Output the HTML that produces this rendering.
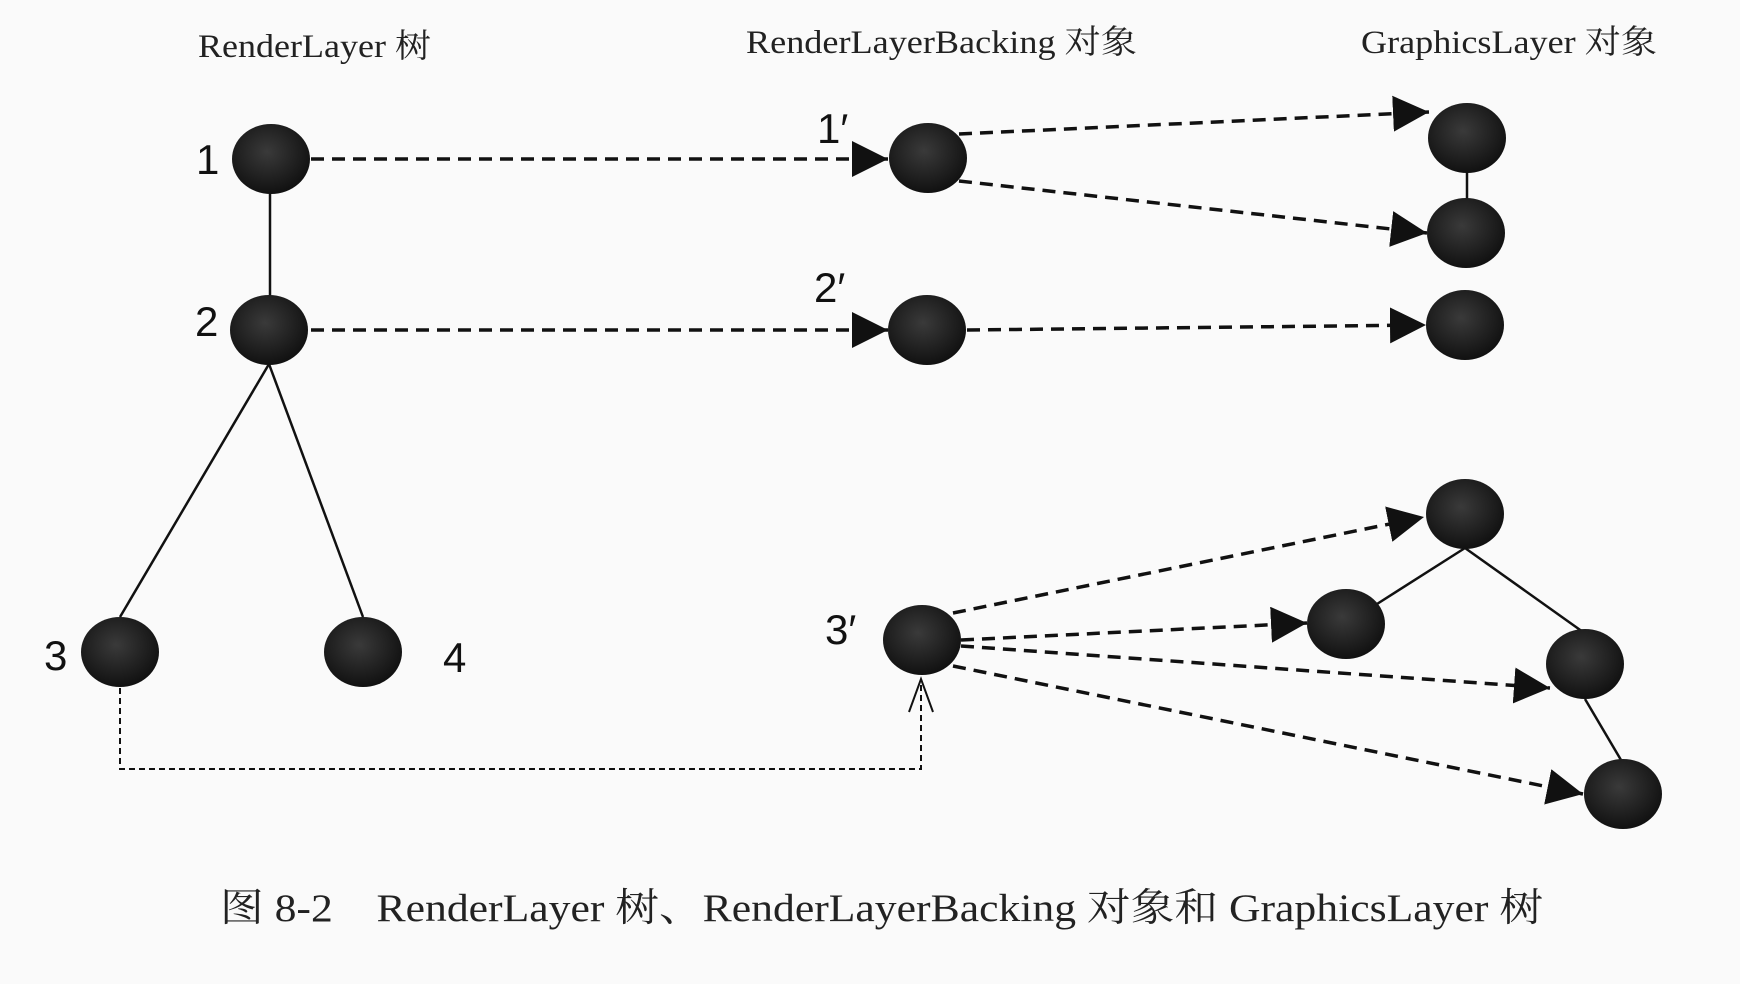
<!DOCTYPE html>
<html><head><meta charset="utf-8"><style>
html,body{margin:0;padding:0;background:#fafafa;}
svg{display:block;}
.h{font-family:"Liberation Serif","Noto Serif CJK SC",serif;font-size:33px;fill:#222;}
.n{font-family:"Liberation Sans",sans-serif;font-size:42px;fill:#111;}
</style></head><body>
<svg width="1740" height="984" viewBox="0 0 1740 984" xmlns="http://www.w3.org/2000/svg">
<defs>
<marker id="f" viewBox="0 0 10 10" refX="10" refY="5" markerWidth="36" markerHeight="36" markerUnits="userSpaceOnUse" orient="auto"><path d="M0,0 L10,5 L0,10 z" fill="#111"/></marker>
<radialGradient id="g" cx="45%" cy="40%" r="60%"><stop offset="0" stop-color="#3a3a3a"/><stop offset="1" stop-color="#111"/></radialGradient>
</defs>
<rect width="1740" height="984" fill="#fafafa"/>
<text class="h" x="198" y="57" textLength="233" lengthAdjust="spacingAndGlyphs">RenderLayer 树</text>
<text class="h" x="746" y="53" textLength="391" lengthAdjust="spacingAndGlyphs">RenderLayerBacking 对象</text>
<text class="h" x="1361" y="53" textLength="296" lengthAdjust="spacingAndGlyphs">GraphicsLayer 对象</text>

<g stroke="#111" stroke-width="2.5" fill="none">
<line x1="270" y1="193" x2="270" y2="296"/>
<line x1="269" y1="364" x2="120" y2="617"/>
<line x1="269" y1="364" x2="363" y2="617"/>
<line x1="1467" y1="170" x2="1467" y2="200"/>
<line x1="1465" y1="548" x2="1377" y2="604"/>
<line x1="1465" y1="548" x2="1583" y2="632"/>
<line x1="1585" y1="699" x2="1621" y2="760"/>
</g>

<g stroke="#111" stroke-width="3.5" fill="none" stroke-dasharray="13 8" marker-end="url(#f)">
<line x1="311" y1="159" x2="888" y2="159"/>
<line x1="311" y1="330" x2="888" y2="330"/>
<line x1="959" y1="134" x2="1429" y2="112"/>
<line x1="959" y1="181" x2="1427" y2="233"/>
<line x1="967" y1="330" x2="1426" y2="325"/>
<line x1="953" y1="613" x2="1424" y2="517"/>
<line x1="961" y1="640" x2="1307" y2="623"/>
<line x1="961" y1="646" x2="1550" y2="688"/>
<line x1="953" y1="666" x2="1583" y2="794"/>
</g>

<path d="M120,688 V769 H921 V680" stroke="#111" stroke-width="2" fill="none" stroke-dasharray="6 4"/>
<path d="M909,712 L921,679 L933,712" stroke="#111" stroke-width="2" fill="none"/>

<g fill="url(#g)">
<ellipse cx="271" cy="159" rx="39" ry="35"/>
<ellipse cx="269" cy="330" rx="39" ry="35"/>
<ellipse cx="120" cy="652" rx="39" ry="35"/>
<ellipse cx="363" cy="652" rx="39" ry="35"/>
<ellipse cx="928" cy="158" rx="39" ry="35"/>
<ellipse cx="927" cy="330" rx="39" ry="35"/>
<ellipse cx="922" cy="640" rx="39" ry="35"/>
<ellipse cx="1467" cy="138" rx="39" ry="35"/>
<ellipse cx="1466" cy="233" rx="39" ry="35"/>
<ellipse cx="1465" cy="325" rx="39" ry="35"/>
<ellipse cx="1465" cy="514" rx="39" ry="35"/>
<ellipse cx="1346" cy="624" rx="39" ry="35"/>
<ellipse cx="1585" cy="664" rx="39" ry="35"/>
<ellipse cx="1623" cy="794" rx="39" ry="35"/>
</g>

<text class="n" x="196" y="174">1</text>
<text class="n" x="195" y="336">2</text>
<text class="n" x="44" y="670">3</text>
<text class="n" x="443" y="672">4</text>
<text class="n" x="817" y="143">1′</text>
<text class="n" x="814" y="302">2′</text>
<text class="n" x="825" y="644">3′</text>

<text class="h" x="220" y="921" style="font-size:39px" textLength="1323" lengthAdjust="spacingAndGlyphs">图 8-2　RenderLayer 树、RenderLayerBacking 对象和 GraphicsLayer 树</text>
</svg>
</body></html>
